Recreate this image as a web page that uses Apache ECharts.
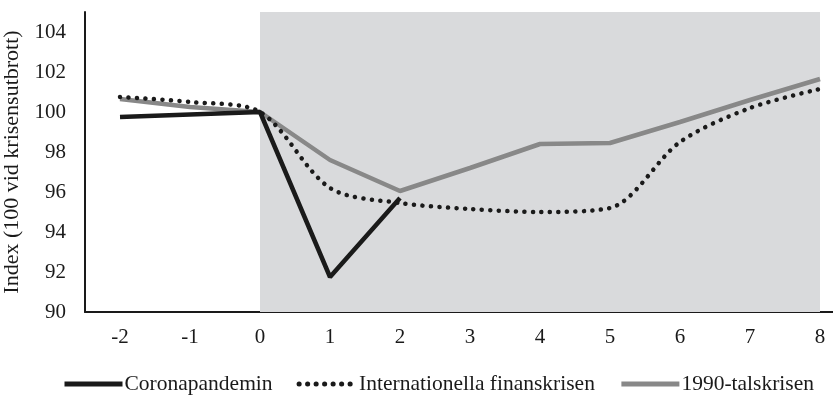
<!DOCTYPE html>
<html>
<head>
<meta charset="utf-8">
<script src="https://cdn.jsdelivr.net/npm/echarts@6/dist/echarts.min.js"></script>
<style>
html,body{margin:0;padding:0;background:#fff;}
#chart{width:833px;height:396px;}
</style>
</head>
<body>
<div id="chart"></div>
<script>
var categories = ['-2', '-1', '0', '1', '2', '3', '4', '5', '6', '7', '8'];
var corona = [99.75, null, 100, 91.75, 95.7, null, null, null, null, null, null];
var finans = [100.75, 100.5, 100, 96.2, 95.45, 95.15, 95.0, 95.2, 98.5, 100.2, 101.15];
var nittio = [100.65, 100.25, 100, 97.6, 96.05, 97.2, 98.4, 98.45, 99.5, 100.6, 101.65];
var crisisStart = '0';
var crisisEnd = '8';
var yTitle = 'Index (100 vid krisensutbrott)';
var names = ['Coronapandemin', 'Internationella finanskrisen', '1990-talskrisen'];

var FONT = '"Liberation Serif", "Times New Roman", serif';
var chart = echarts.init(document.getElementById('chart'), null, {renderer: 'canvas'});
chart.setOption({
  animation: false,
  backgroundColor: '#ffffff',
  textStyle: {fontFamily: FONT, color: '#1a1a1a'},
  grid: {left: 85, top: 12, width: 770, height: 300, containLabel: false, outerBoundsMode: 'none'},
  legend: {
    bottom: -4,
    left: 57,
    itemWidth: 58,
    itemHeight: 12,
    itemGap: 24,
    itemStyle: {opacity: 0},
    lineStyle: {width: 5},
    textStyle: {fontFamily: FONT, fontSize: 21.5, color: '#1a1a1a', padding: [0, 0, 0, -3]},
    data: names
  },
  xAxis: {
    type: 'category',
    data: categories,
    boundaryGap: true,
    axisLine: {lineStyle: {color: '#1a1a1a', width: 2}},
    axisTick: {show: false},
    axisLabel: {fontFamily: FONT, fontSize: 21, color: '#1a1a1a', margin: 15},
    splitLine: {show: false}
  },
  yAxis: {
    type: 'value',
    min: 90,
    max: 105,
    interval: 2,
    name: yTitle,
    nameLocation: 'middle',
    nameGap: 56,
    nameTextStyle: {fontFamily: FONT, fontSize: 22, color: '#1a1a1a'},
    axisLine: {show: true, lineStyle: {color: '#1a1a1a', width: 2}},
    axisTick: {show: false},
    axisLabel: {fontFamily: FONT, fontSize: 21, color: '#1a1a1a', margin: 19, showMaxLabel: false},
    splitLine: {show: false}
  },
  series: [
    {
      name: '_area',
      type: 'line',
      data: [],
      silent: true,
      markArea: {
        silent: true,
        itemStyle: {color: '#d9dadc'},
        data: [[{xAxis: crisisStart}, {xAxis: crisisEnd}]]
      },
      z: 1
    },
    {
      name: names[2],
      type: 'line',
      data: nittio,
      symbol: 'none',
      color: '#888888',
      lineStyle: {color: '#888888', width: 4.5},
      z: 3
    },
    {
      name: names[1],
      type: 'line',
      data: finans,
      symbol: 'none',
      smooth: 0.3,
      color: '#1a1a1a',
      lineStyle: {color: '#1a1a1a', width: 4.5, type: [0.1, 8.4], cap: 'round'},
      z: 4
    },
    {
      name: names[0],
      type: 'line',
      data: corona,
      connectNulls: true,
      symbol: 'none',
      color: '#1a1a1a',
      lineStyle: {color: '#1a1a1a', width: 4.5},
      z: 5
    }
  ]
});
</script>
</body>
</html>
